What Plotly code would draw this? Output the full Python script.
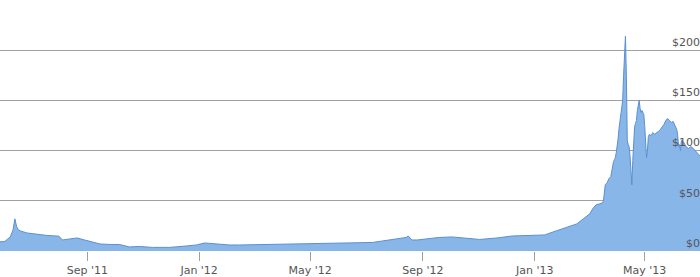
import plotly.graph_objects as go

dates = [
    "2011-05-27", "2011-06-03", "2011-06-09", "2011-06-12", "2011-06-14", "2011-06-16",
    "2011-06-18", "2011-06-20", "2011-06-27", "2011-07-08", "2011-07-19", "2011-08-01",
    "2011-08-05", "2011-08-13", "2011-08-21", "2011-08-29", "2011-09-07", "2011-09-15",
    "2011-09-26", "2011-10-06", "2011-10-17", "2011-10-28", "2011-11-11", "2011-11-30",
    "2011-12-18", "2011-12-29", "2012-01-07", "2012-01-20", "2012-02-03", "2012-02-14",
    "2012-03-21", "2012-04-27", "2012-05-22", "2012-06-13", "2012-07-08", "2012-07-19",
    "2012-08-03", "2012-08-14", "2012-08-16", "2012-08-20", "2012-08-26", "2012-09-05",
    "2012-09-19", "2012-10-03", "2012-10-18", "2012-11-02", "2012-11-21", "2012-12-08",
    "2012-12-27", "2013-01-12", "2013-01-18", "2013-01-28", "2013-02-08", "2013-02-16",
    "2013-02-23", "2013-03-02", "2013-03-06", "2013-03-09", "2013-03-13", "2013-03-16",
    "2013-03-17", "2013-03-18", "2013-03-19", "2013-03-21", "2013-03-23", "2013-03-25",
    "2013-03-26", "2013-03-27", "2013-03-28", "2013-03-29", "2013-03-30", "2013-03-31",
    "2013-04-01", "2013-04-02", "2013-04-03", "2013-04-04", "2013-04-05", "2013-04-06",
    "2013-04-07", "2013-04-08", "2013-04-09", "2013-04-10", "2013-04-11", "2013-04-12",
    "2013-04-13", "2013-04-14", "2013-04-15", "2013-04-16", "2013-04-17", "2013-04-18",
    "2013-04-19", "2013-04-20", "2013-04-21", "2013-04-22", "2013-04-23", "2013-04-24",
    "2013-04-25", "2013-04-26", "2013-04-27", "2013-04-28", "2013-04-29", "2013-04-30",
    "2013-05-01", "2013-05-02", "2013-05-03", "2013-05-04", "2013-05-05", "2013-05-06",
    "2013-05-08", "2013-05-10", "2013-05-12", "2013-05-14", "2013-05-16", "2013-05-18",
    "2013-05-20", "2013-05-22", "2013-05-24", "2013-05-26", "2013-05-28", "2013-05-30",
    "2013-06-01", "2013-06-03", "2013-06-05", "2013-06-06", "2013-06-07", "2013-06-08",
    "2013-06-09", "2013-06-10", "2013-06-12", "2013-06-14", "2013-06-16", "2013-06-18",
    "2013-06-20", "2013-06-22", "2013-06-24", "2013-06-26", "2013-06-28", "2013-06-30",
    "2013-07-01",
]

prices = [
    9, 9.5, 14, 21, 32, 24,
    21, 20, 18, 16.5, 15.5, 14.8,
    11, 12, 13, 11, 9, 7,
    6.5, 6.5, 4, 4.5, 3.6, 3.6,
    5, 6, 8, 7, 6, 6,
    6.5, 6.8, 7.5, 8, 8.5, 10,
    12, 13.5, 15, 11, 11, 12,
    13.5, 14, 12.5, 11.5, 13, 15,
    15.5, 16, 18, 21, 24, 27,
    32, 37, 43, 46, 47, 48,
    50, 58, 66, 68, 72, 74,
    80, 86, 89, 91, 93, 98,
    103, 112, 122, 128, 133, 140,
    150, 175, 200, 214, 175, 110,
    106, 104, 95, 80, 66, 90,
    118, 124, 127, 130, 140, 148,
    150, 142, 138, 140, 137, 136,
    125, 110, 93, 100, 114, 116,
    115, 118, 116, 118, 119, 121,
    123, 126, 130, 132, 130, 128,
    129, 125, 121, 115, 104, 106,
    100, 110, 109, 106, 103, 102,
    104, 103, 101, 99, 97, 95,
    94,
]

x_tick_vals = ["2011-09-01", "2012-01-01", "2012-05-01", "2012-09-01", "2013-01-01", "2013-05-01"]
x_tick_text = ["Sep '11", "Jan '12", "May '12", "Sep '12", "Jan '13", "May '13"]
y_tick_vals = [0, 50, 100, 150, 200]
y_tick_text = ["$0", "$50", "$100", "$150", "$200"]

fig = go.Figure()
fig.add_trace(go.Scatter(
    x=dates, y=prices, mode="lines", fill="tozeroy",
    line=dict(color="#5a90cf", width=1),
    fillcolor="#88b6e9",
    hoverinfo="skip",
))

font = dict(family="DejaVu Sans, Verdana, sans-serif", size=11, color="#555555")

fig.update_layout(
    width=700, height=277,
    margin=dict(l=0, r=0, t=0, b=23),
    paper_bgcolor="white", plot_bgcolor="white",
    showlegend=False,
    font=font,
    xaxis=dict(
        range=["2011-05-28 19:00", "2013-06-30 08:00"],
        tickvals=x_tick_vals, ticktext=x_tick_text,
        ticks="outside", ticklen=9, tickcolor="#a0a0a0", tickwidth=1,
        showgrid=False, showline=False, zeroline=False,
        tickfont=font,
    ),
    yaxis=dict(
        range=[0, 250], side="right",
        tickvals=y_tick_vals, ticktext=y_tick_text,
        ticklabelposition="inside", ticklabelshift=-8, ticklabelstandoff=-3,
        ticklabeloverflow="allow",
        showgrid=True, gridcolor="#a0a0a0", gridwidth=1,
        zeroline=False, showline=False, ticks="",
        tickfont=font,
    ),
)

fig.write_html("out.html")
